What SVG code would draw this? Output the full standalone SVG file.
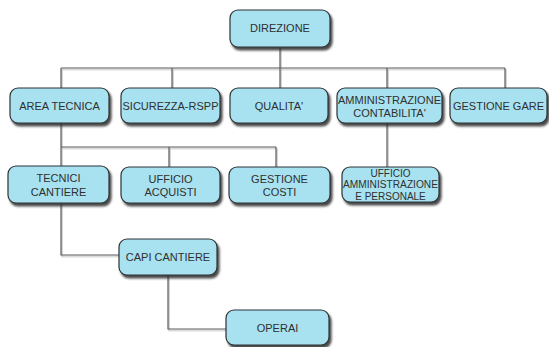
<svg xmlns="http://www.w3.org/2000/svg" width="549" height="347" viewBox="0 0 549 347">
  <defs>
    <filter id="sh" x="-10%" y="-20%" width="125%" height="150%">
      <feDropShadow dx="2" dy="3" stdDeviation="1.2" flood-color="#2a2a2a" flood-opacity="0.85"/>
    </filter>
    <filter id="lsh" x="-5%" y="-5%" width="110%" height="110%">
      <feDropShadow dx="1" dy="1.5" stdDeviation="0.6" flood-color="#999" flood-opacity="0.7"/>
    </filter>
  </defs>
  <style>
    .box { fill: #a8e2f0; stroke: #2e3436; stroke-width: 1.2; filter: url(#sh); }
    .lbl { font-family: "Liberation Sans", Arial, sans-serif; font-size: 11px; fill: #2f2f2f; text-anchor: middle; }
    .sm { font-size: 10px; }
    .conn { fill: none; stroke: #5a5a5a; stroke-width: 1.2; }
  </style>
  <rect width="549" height="347" fill="#ffffff"/>

  <g id="connectors" class="conn" filter="url(#lsh)">
    <path d="M280 47 V68"/>
    <path d="M61 68 H505"/>
    <path d="M61 68 V88 M172 68 V88 M280 68 V88 M387 68 V88 M505 68 V88"/>
    <path d="M61 123 V166"/>
    <path d="M61 147 H276 M169 147 V167 M276 147 V167"/>
    <path d="M387 123 V167"/>
    <path d="M61 203 V255 H119"/>
    <path d="M168 275 V329 H226"/>
  </g>

  <g id="direzione">
    <rect class="box" x="230" y="10" width="100" height="37" rx="8"/>
    <text class="lbl" x="280" y="32">DIREZIONE</text>
  </g>
  <g id="area-tecnica">
    <rect class="box" x="10" y="88" width="99" height="35" rx="8"/>
    <text class="lbl" x="59.5" y="109.5">AREA TECNICA</text>
  </g>
  <g id="sicurezza-rspp">
    <rect class="box" x="121" y="88" width="99" height="35" rx="8"/>
    <text class="lbl" x="170.5" y="109.5" textLength="96" lengthAdjust="spacingAndGlyphs">SICUREZZA-RSPP</text>
  </g>
  <g id="qualita">
    <rect class="box" x="230" y="88" width="98" height="35" rx="8"/>
    <text class="lbl" x="279" y="109.5">QUALITA'</text>
  </g>
  <g id="amministrazione-contabilita">
    <rect class="box" x="337" y="88" width="105" height="35" rx="8"/>
    <text class="lbl" x="389.5" y="103.5" textLength="103" lengthAdjust="spacingAndGlyphs">AMMINISTRAZIONE</text>
    <text class="lbl" x="389.5" y="116.5">CONTABILITA'</text>
  </g>
  <g id="gestione-gare">
    <rect class="box" x="450" y="88" width="97" height="35" rx="8"/>
    <text class="lbl" x="498.5" y="109.5">GESTIONE GARE</text>
  </g>
  <g id="tecnici-cantiere">
    <rect class="box" x="8" y="166" width="101" height="37" rx="8"/>
    <text class="lbl" x="58.5" y="182">TECNICI</text>
    <text class="lbl" x="58.5" y="195.5">CANTIERE</text>
  </g>
  <g id="ufficio-acquisti">
    <rect class="box" x="121" y="167" width="99" height="36" rx="8"/>
    <text class="lbl" x="170.5" y="182.5">UFFICIO</text>
    <text class="lbl" x="170.5" y="196">ACQUISTI</text>
  </g>
  <g id="gestione-costi">
    <rect class="box" x="229" y="167" width="101" height="36" rx="8"/>
    <text class="lbl" x="279.5" y="182.5">GESTIONE</text>
    <text class="lbl" x="279.5" y="196">COSTI</text>
  </g>
  <g id="ufficio-amministrazione-personale">
    <rect class="box" x="342" y="167" width="97" height="35" rx="8"/>
    <text class="lbl sm" x="390.5" y="176.5">UFFICIO</text>
    <text class="lbl sm" x="390.5" y="188" textLength="95" lengthAdjust="spacingAndGlyphs">AMMINISTRAZIONE</text>
    <text class="lbl sm" x="390.5" y="199.5">E PERSONALE</text>
  </g>
  <g id="capi-cantiere">
    <rect class="box" x="119" y="239" width="98" height="36" rx="8"/>
    <text class="lbl" x="168" y="261">CAPI CANTIERE</text>
  </g>
  <g id="operai">
    <rect class="box" x="226" y="310" width="103" height="35" rx="8"/>
    <text class="lbl" x="277.5" y="331.5">OPERAI</text>
  </g>
</svg>
